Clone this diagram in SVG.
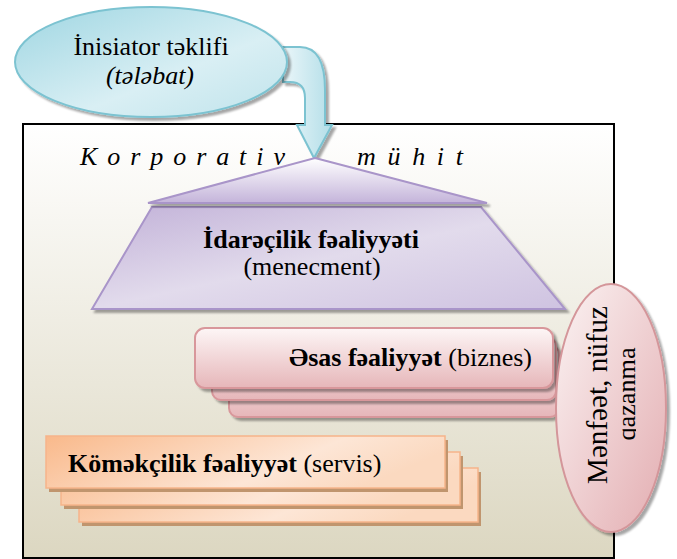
<svg xmlns="http://www.w3.org/2000/svg" width="677" height="559" viewBox="0 0 677 559">
<defs>
<linearGradient id="gBox" x1="0" y1="0" x2="0" y2="1">
<stop offset="0" stop-color="#ffffff"/><stop offset="1" stop-color="#dcd7c1"/>
</linearGradient>
<linearGradient id="gBlue" x1="0" y1="0" x2="1" y2="1">
<stop offset="0" stop-color="#9fd6e2"/><stop offset="0.6" stop-color="#d9eff4"/><stop offset="1" stop-color="#bfe3eb"/>
</linearGradient>
<linearGradient id="gArrow" x1="0" y1="0" x2="1" y2="0">
<stop offset="0" stop-color="#eaf6f9"/><stop offset="1" stop-color="#b3dee8"/>
</linearGradient>
<linearGradient id="gTri" x1="0" y1="0" x2="0" y2="1">
<stop offset="0" stop-color="#ffffff"/><stop offset="1" stop-color="#c4b4da"/>
</linearGradient>
<linearGradient id="gBand" x1="0" y1="0" x2="1" y2="1">
<stop offset="0" stop-color="#c2b2d8"/><stop offset="0.5" stop-color="#e2dbec"/><stop offset="1" stop-color="#cfc3e1"/>
</linearGradient>
<linearGradient id="gPink" x1="0" y1="0" x2="0" y2="1">
<stop offset="0" stop-color="#fdf6f6"/><stop offset="1" stop-color="#e6b6b9"/>
</linearGradient>
<linearGradient id="gPinkE" x1="0" y1="0" x2="1" y2="1">
<stop offset="0" stop-color="#fbf3f3"/><stop offset="1" stop-color="#e3adb1"/>
</linearGradient>
<linearGradient id="gOr" x1="0" y1="0" x2="1" y2="0.3">
<stop offset="0" stop-color="#f9b98b"/><stop offset="0.7" stop-color="#fde6d6"/><stop offset="1" stop-color="#fbd9c0"/>
</linearGradient>
<clipPath id="cl2"><rect x="560" y="280" width="76" height="260"/></clipPath>
<filter id="sh" x="-10%" y="-10%" width="130%" height="130%">
<feOffset in="SourceAlpha" dx="3" dy="3" result="o"/>
<feGaussianBlur in="o" stdDeviation="1" result="b"/>
<feComponentTransfer in="b" result="c"><feFuncA type="linear" slope="0.35"/></feComponentTransfer>
<feMerge><feMergeNode in="c"/><feMergeNode in="SourceGraphic"/></feMerge>
</filter>
</defs>
<style>
.t{font-family:'Times New Roman','Liberation Serif',Tinos,'DejaVu Serif',serif;font-size:26px;fill:#000}
.b{font-weight:bold}
.i{font-style:italic}
.pk{fill:url(#gPink);stroke:#d8979b;stroke-width:2}
.or{fill:url(#gOr);stroke:#f6b48a;stroke-width:1.5}
.osh{fill:#c0956e}
</style>
<rect width="677" height="559" fill="#ffffff"/>
<g id="box">
<rect x="23" y="124" width="591" height="434" fill="url(#gBox)" stroke="#000" stroke-width="2"/>
</g>
<g id="connectors">
<path d="M283,47 L300,47 Q325,47 325,90 L325,125 L332,125 L314,158 L297,125 L305,125 L305,98 Q305,82 290,82 L283,82 Z" fill="url(#gArrow)" stroke="#7cc3d1" stroke-width="2" filter="url(#sh)"/>
</g>
<g id="initiator">
<ellipse cx="151" cy="62" rx="136" ry="55" fill="url(#gBlue)" stroke="#7cc3d1" stroke-width="2" filter="url(#sh)"/>
<text class="t" x="151" y="55" text-anchor="middle">İnisiator təklifi</text>
<text class="t i" x="150" y="84" text-anchor="middle">(tələbat)</text>
</g>
<g id="title">
<text class="t i" x="80" y="165" textLength="205" lengthAdjust="spacing">K o r p o r a t i v</text>
<text class="t i" x="357" y="165" textLength="106" lengthAdjust="spacing">m ü h i t</text>
</g>
<g id="management">
<path d="M152,207 L481,207 L565,309 L92,309 Z" fill="url(#gBand)" stroke="#a995c9" stroke-width="2" filter="url(#sh)"/>
<path d="M315,158 L487,203 L148,203 Z" fill="url(#gTri)" stroke="#a995c9" stroke-width="2" filter="url(#sh)"/>
<text class="t b" x="311" y="248" text-anchor="middle">İdarəçilik fəaliyyəti</text>
<text class="t" x="312" y="275" text-anchor="middle">(menecment)</text>
</g>
<g id="business">
<rect class="pk" x="229" y="345" width="330" height="72" rx="9" filter="url(#sh)"/>
<rect class="pk" x="212" y="337" width="344" height="63" rx="9" filter="url(#sh)"/>
<rect class="pk" x="195" y="328" width="358" height="60" rx="10" filter="url(#sh)"/>
<text class="t" x="532" y="366" text-anchor="end"><tspan class="b">Əsas fəaliyyət</tspan> (biznes)</text>
</g>
<g id="service">
<rect class="osh" x="82" y="472" width="399" height="54"/>
<rect class="or" x="79" y="468" width="399" height="54"/>
<rect class="osh" x="64" y="456" width="399" height="53"/>
<rect class="or" x="61" y="452" width="399" height="53"/>
<rect class="osh" x="49" y="440" width="399" height="52"/>
<rect class="or" x="46" y="436" width="399" height="52"/>
<text class="t" x="68" y="472"><tspan class="b">Köməkçilik fəaliyyət</tspan> (servis)</text>
</g>
<g id="profit">
<ellipse cx="611" cy="408" rx="55" ry="124" fill="url(#gPinkE)" stroke="#d4969a" stroke-width="2" filter="url(#sh)"/>
<text class="t" transform="translate(607,395) rotate(-90)" text-anchor="middle" textLength="178" lengthAdjust="spacingAndGlyphs" style="font-size:29px">Mənfəət, nüfuz</text>
<g clip-path="url(#cl2)">
<text class="t" transform="translate(635,394) rotate(-90)" text-anchor="middle" textLength="93" lengthAdjust="spacingAndGlyphs">qazanma</text>
</g>
</g>
</svg>
